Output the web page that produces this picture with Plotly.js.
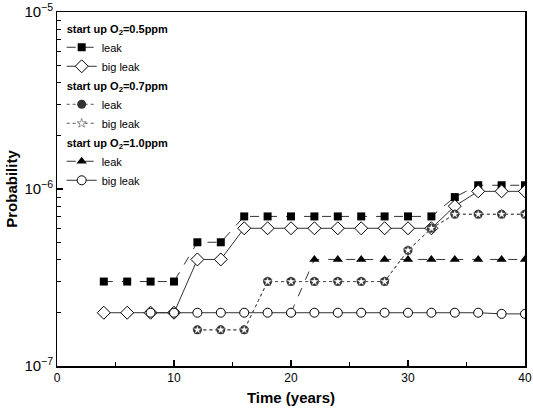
<!DOCTYPE html>
<html><head><meta charset="utf-8">
<script src="https://cdn.plot.ly/plotly-3.0.1.min.js"></script>
<style>body{margin:0;background:#fff}#c{width:533px;height:415px}</style>
</head><body><div id="c"></div>
<script>
// Data
const years = [4,6,8,10,12,14,16,18,20,22,24,26,28,30,32,34,36,38,40];
const leak05 =    [3e-7,3e-7,3e-7,3e-7,5e-7,5e-7,7e-7,7e-7,7e-7,7e-7,7e-7,7e-7,7e-7,7e-7,7e-7,9e-7,1.05e-6,1.05e-6,1.05e-6];
const bigLeak05 = [2e-7,2e-7,2e-7,2e-7,4e-7,4e-7,6e-7,6e-7,6e-7,6e-7,6e-7,6e-7,6e-7,6e-7,6e-7,8e-7,9.7e-7,9.7e-7,9.7e-7];
const years07 = [12,14,16,18,20,22,24,26,28,30,32,34,36,38,40];
const leak07 =    [1.6e-7,1.6e-7,1.6e-7,3e-7,3e-7,3e-7,3e-7,3e-7,3e-7,4.5e-7,6e-7,7.2e-7,7.2e-7,7.2e-7,7.2e-7];
const bigLeak07 = [1.6e-7,1.6e-7,1.6e-7,3e-7,3e-7,3e-7,3e-7,3e-7,3e-7,4.5e-7,6e-7,7.2e-7,7.2e-7,7.2e-7,7.2e-7];
const years10leak = [20,22,24,26,28,30,32,34,36,38,40];
const leak10 = [2e-7,4e-7,4e-7,4e-7,4e-7,4e-7,4e-7,4e-7,4e-7,4e-7,4e-7];
const years10big = [8,10,12,14,16,18,20,22,24,26,28,30,32,34,36,38,40];
const bigLeak10 = [2e-7,2e-7,2e-7,2e-7,2e-7,2e-7,2e-7,2e-7,2e-7,2e-7,2e-7,2e-7,2e-7,2e-7,2e-7,1.97e-7,1.97e-7];
const yMinorTicks = [2e-7,3e-7,4e-7,5e-7,6e-7,7e-7,8e-7,9e-7,2e-6,3e-6,4e-6,5e-6,6e-6,7e-6,8e-6,9e-6];

const gfont = {family:'Liberation Sans, Arial, sans-serif', size:11, color:'#000', weight:'bold'};
const traces = [
 {x:years, y:leak05, name:'leak', legendgroup:'g1', legendrank:1, legendgrouptitle:{text:'<b>start up O<sub>2</sub>=0.5ppm</b>', font:gfont},
  mode:'lines+markers', line:{color:'#333', width:1, dash:'dash'}, marker:{symbol:'square', size:8, color:'#000'}},
 {x:years, y:bigLeak05, name:'big leak', legendgroup:'g1', legendrank:2,
  mode:'lines+markers', line:{color:'#333', width:1}, marker:{symbol:'diamond', size:10, color:'#fff', line:{color:'#000', width:1}}},
 {x:years10leak, y:leak10, yaxis:'y2', name:'leak', legendgroup:'g3', legendrank:5, legendgrouptitle:{text:'<b>start up O<sub>2</sub>=1.0ppm</b>', font:gfont},
  mode:'lines+markers', line:{color:'#333', width:1, dash:'dash'}, marker:{symbol:'triangle-up', size:9, color:'#000'}},
 {x:years10big, y:bigLeak10, yaxis:'y2', name:'big leak', legendgroup:'g3', legendrank:6,
  mode:'lines+markers', line:{color:'#333', width:1}, marker:{symbol:'circle', size:9, color:'#fff', line:{color:'#000', width:1}}},
 {x:years07, y:leak07, yaxis:'y2', name:'leak', legendgroup:'g2', legendrank:3, legendgrouptitle:{text:'<b>start up O<sub>2</sub>=0.7ppm</b>', font:gfont},
  mode:'lines+markers', line:{color:'#555', width:1, dash:'dot'}, marker:{symbol:'circle', size:9, color:'#333'}},
 {x:years07, y:bigLeak07, yaxis:'y2', name:'big leak', legendgroup:'g2', legendrank:4,
  mode:'lines+markers', line:{color:'#555', width:1, dash:'dot'}, marker:{symbol:'star', size:7, color:'#fff', line:{color:'#333', width:0.5}}}
];

const layout = {
 width:533, height:415, paper_bgcolor:'#fff', plot_bgcolor:'#fff',
 margin:{l:57, r:8, t:12, b:49},
 font:{family:'Liberation Sans, Arial, sans-serif', size:12, color:'#000'},
 showlegend:true,
 legend:{x:0.01, y:0.995, xanchor:'left', yanchor:'top', bgcolor:'rgba(0,0,0,0)', traceorder:'grouped',
   font:{size:11}, tracegroupgap:0, itemwidth:30},
 xaxis:{range:[0,40], tickmode:'linear', tick0:0, dtick:10, ticks:'inside', ticklen:6, tickwidth:1.3, tickcolor:'#000',
   minor:{dtick:5, tick0:0, ticks:'inside', ticklen:4, tickwidth:1, tickcolor:'#000'},
   showline:true, linewidth:1.5, linecolor:'#000', mirror:true, showgrid:false, zeroline:false,
   title:{text:'<b>Time (years)</b>', font:{size:15}, standoff:8}},
 yaxis:{type:'log', range:[-7,-5], tickmode:'linear', tick0:0, dtick:1, exponentformat:'power', showexponent:'all',
   ticks:'inside', ticklen:6, tickwidth:1.3, tickcolor:'#000',
   showline:true, linewidth:1.5, linecolor:'#000', mirror:true, showgrid:false, zeroline:false,
   title:{text:'<b>Probability</b>', font:{size:15}, standoff:3}},
 yaxis2:{type:'log', range:[-7,-5], overlaying:'y', side:'left', tickmode:'array', tickvals:yMinorTicks,
   showticklabels:false, ticks:'inside', ticklen:4, tickwidth:1, tickcolor:'#000', showgrid:false, zeroline:false, showline:false}
};
Plotly.newPlot('c', traces, layout, {displayModeBar:false, staticPlot:true});
</script></body></html>
